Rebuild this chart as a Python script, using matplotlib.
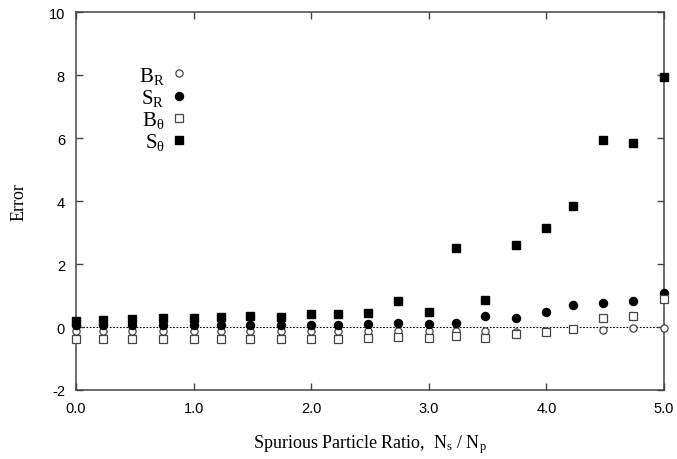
import numpy as np
import matplotlib.pyplot as plt

plt.rcParams['font.family'] = ['Liberation Serif', 'DejaVu Serif']
plt.rcParams['mathtext.fontset'] = 'custom'
plt.rcParams['mathtext.rm'] = 'Liberation Serif'
plt.rcParams['mathtext.it'] = 'Liberation Serif:italic'

# 横坐标：伪粒子比例
ratio = [0.0, 0.23, 0.48, 0.74, 1.0, 1.23, 1.48, 1.74, 2.0, 2.23, 2.48,
         2.74, 3.0, 3.23, 3.48, 3.74, 4.0, 4.23, 4.48, 4.74, 5.0]
# 四组误差
B_R = [-0.13, -0.13, -0.13, -0.13, -0.13, -0.13, -0.13, -0.13, -0.13, -0.13, -0.13,
       -0.12, -0.14, -0.12, -0.12, -0.17, -0.14, -0.06, -0.08, -0.04, -0.04]
S_R = [0.05, 0.05, 0.05, 0.05, 0.05, 0.05, 0.07, 0.07, 0.06, 0.06, 0.08,
       0.14, 0.08, 0.14, 0.35, 0.27, 0.48, 0.71, 0.76, 0.84, 1.09]
B_T = [-0.38, -0.39, -0.38, -0.38, -0.38, -0.39, -0.38, -0.38, -0.38, -0.38, -0.36,
       -0.31, -0.36, -0.28, -0.34, -0.21, -0.15, -0.06, 0.29, 0.34, 0.90]
S_T = [0.20, 0.23, 0.25, 0.30, 0.30, 0.32, 0.35, 0.33, 0.40, 0.42, 0.44,
       0.82, 0.48, 2.52, 0.85, 2.61, 3.14, 3.84, 5.95, 5.84, 7.95]

fig = plt.figure(figsize=(6.77, 4.6), dpi=100)
ax = fig.add_axes([0.1123, 0.15, 0.8685, 0.8217])

ax.axhline(0, color='k', ls=(0, (1.5, 1.5)), lw=0.8, zorder=1)
ms = 5.2
kw = dict(clip_on=False, zorder=3, ls='none')
ax.plot(ratio, B_R, 'o', mfc='white', mec='#444444', mew=0.9, ms=ms, label=r'B$_\mathrm{R}$', **kw)
ax.plot(ratio, S_R, 'o', color='k', ms=ms + 0.6, label=r'S$_\mathrm{R}$', **kw)
ax.plot(ratio, B_T, 's', mfc='white', mec='#444444', mew=0.9, ms=ms, label=r'B$_\mathrm{θ}$', **kw)
ax.plot(ratio, S_T, 's', color='k', ms=ms + 0.6, label=r'S$_\mathrm{θ}$', **kw)

ax.set_xlim(0, 5)
ax.set_ylim(-2, 10)
ax.set_xticks(np.arange(0, 5.01, 1.0))
ax.set_xticklabels(['%.1f' % v for v in np.arange(0, 5.01, 1.0)],
                   family='Liberation Sans', fontsize=10.5)
ax.set_yticks(np.arange(-2, 10.1, 2))
ax.set_yticklabels(['%d' % v for v in np.arange(-2, 10.1, 2)],
                   family='Liberation Sans', fontsize=10.5)
ax.tick_params(direction='in', length=5, width=1, color='#444444',
               right=True, top=True, pad=8)
for s in ax.spines.values():
    s.set_linewidth(1.1)
    s.set_color('#444444')

ax.set_xlabel(r'Spurious Particle Ratio,  N$_\mathrm{s}$ / N$_\mathrm{p}$', fontsize=13, labelpad=12)
ax.set_ylabel('Error', fontsize=13, labelpad=15)

ax.legend(loc='upper left', bbox_to_anchor=(0.075, 0.91), frameon=False, markerfirst=False,
          fontsize=15, handlelength=0.8, handletextpad=0.3, labelspacing=0.05)

fig.savefig('out.png', dpi=100)
